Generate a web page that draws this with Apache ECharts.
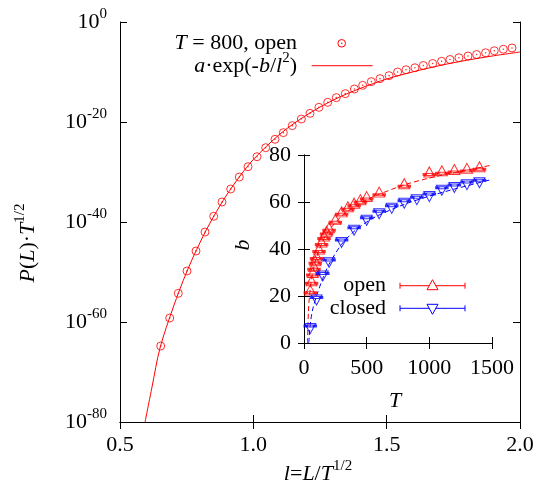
<!DOCTYPE html>
<html><head><meta charset="utf-8">
<script src="https://cdn.jsdelivr.net/npm/echarts@6/dist/echarts.min.js"></script>
<style>html,body{margin:0;padding:0;background:#fff}#c{width:547px;height:490px}</style>
</head><body><div id="c"></div>
<script>
// ---- main plot data: l = L/T^(1/2), log10 of P(L)*T^(1/2) ----
const mainL = [0.6526,0.6864,0.7186,0.7512,0.785,0.8188,0.8514,0.8825,0.9151,0.9474,0.98,1.0138,1.0464,1.0813,1.1125,1.146,1.18,1.2125,1.246,1.279,1.311,1.345,1.379,1.41,1.4425,1.475,1.509,1.541,1.5725,1.606,1.6375,1.6725,1.706,1.7375,1.771,1.805,1.8375,1.871,1.9035,1.9375,1.97];
const mainLogP = [-64.8,-59.2,-54.26,-49.8,-45.8,-42.0,-38.86,-36.0,-33.4,-31.0,-28.94,-26.94,-25.14,-23.46,-22.13,-20.73,-19.4,-18.27,-17.07,-16.07,-15.13,-14.33,-13.4,-12.67,-11.93,-11.33,-10.73,-10.0,-9.55,-9.15,-8.7,-8.3,-7.85,-7.5,-7.15,-6.8,-6.5,-6.15,-5.75,-5.45,-5.2];
const fitL = [0.594,0.62,0.65,0.70,0.75,0.80,0.85,0.90,0.95,1.0,1.1,1.2,1.3,1.4,1.5,1.6,1.7,1.8,1.9,2.0];
const fitLogP = [-80,-73,-65.2,-57.0,-50.0,-44.1,-39.0,-34.6,-30.8,-27.5,-22.4,-18.6,-15.6,-13.3,-11.4,-9.95,-8.7,-7.65,-6.77,-6.0];
// ---- inset data: b vs T ----
const openT = [50,60,70,80,90,100,120,140,160,180,200,250,300,350,400,450,500,600,800,1000,1100,1200,1300,1400];
const openB = [22.5,26.5,30,32.5,35,37,40,43,45.5,47.5,49,52.5,55.8,58,59.5,61,62.3,64.2,67.8,72.8,73.3,73.8,74.3,75];
const closedT = [50,100,150,200,300,400,500,600,700,800,900,1000,1100,1200,1300,1400];
const closedB = [6.2,18.3,28.5,34.3,42.8,48,52.2,55,57.3,59.5,61,62.3,65,66.2,67.4,68.2];
const openFitT = [28,31,35,40,50,60,80,100,150,200,300,400,500,600,800,1000,1200,1500];
const openFitB = [0,7,13,17.5,23,27,32.5,36.5,43.5,48,54,58,61,63.3,67.3,70.2,72.5,75.7];
const closedFitT = [38,42,47,55,70,100,150,200,300,400,500,600,800,1000,1200,1500];
const closedFitB = [0,3,6.5,10,14.5,20,27.5,33.5,42,47.5,51.5,54.5,59,62.5,65.5,69.6];
// ---- ticks ----
const mainXTicks = [0.5,1.0,1.5,2.0];
const mainYExp = [-80,-60,-40,-20,0];
const insetXTicks = [0,500,1000,1500];
const insetYTicks = [0,20,40,60,80];

const SERIF = 'Liberation Serif';
const RED = '#ff0000', BLUE = '#0000ff';
const zip = (a,b,f) => a.map((v,i)=>[v, f ? f(b[i]) : b[i]]);
const pow10 = e => Math.pow(10,e);
const mainYVals = mainYExp.map(pow10);

const richSup = {
  n:{fontFamily:SERIF,fontSize:22,lineHeight:30,color:'#000'},
  s:{fontFamily:SERIF,fontSize:15,lineHeight:15,verticalAlign:'top',color:'#000'},
  i:{fontFamily:SERIF,fontSize:22,lineHeight:30,fontStyle:'italic',color:'#000'}
};
const axLine = {show:true,lineStyle:{color:'#000',width:1}};
const tickIn = len => ({show:true,inside:true,length:len,lineStyle:{color:'#000',width:1}});
const lbl = {fontFamily:SERIF,fontSize:22,color:'#000'};

const chart = echarts.init(document.getElementById('c'),null,{renderer:'canvas'});
chart.setOption({
  animation:false,
  backgroundColor:'#fff',
  grid:[
    {left:120,top:22,width:400,height:400,show:false},
    {left:304,top:155,width:188,height:188,show:true,backgroundColor:'#fff',borderWidth:0}
  ],
  xAxis:[
    {gridIndex:0,type:'value',min:0.5,max:2.0,interval:0.5,position:'bottom',axisLine:axLine,axisTick:Object.assign(tickIn(7),{customValues:mainXTicks}),splitLine:{show:false},
     axisLabel:Object.assign({margin:12,customValues:mainXTicks,showMinLabel:true,showMaxLabel:true,formatter:v=>Number(v).toFixed(1)},lbl)},
    {gridIndex:0,type:'value',min:0.5,max:2.0,interval:0.5,position:'top',axisLine:axLine,axisTick:tickIn(7),splitLine:{show:false},axisLabel:{show:false}},
    {gridIndex:1,type:'value',min:0,max:1500,interval:500,position:'bottom',axisLine:axLine,axisTick:tickIn(6),splitLine:{show:false},
     axisLabel:Object.assign({margin:14,customValues:insetXTicks,showMinLabel:true,showMaxLabel:true,formatter:v=>String(Math.round(v))},lbl)},
    {gridIndex:1,type:'value',min:0,max:1500,interval:500,position:'top',axisLine:axLine,axisTick:tickIn(6),splitLine:{show:false},axisLabel:{show:false}}
  ],
  yAxis:[
    {gridIndex:0,type:'log',logBase:10,min:1e-80,max:1,position:'left',axisLine:axLine,
     axisTick:Object.assign(tickIn(7),{customValues:mainYVals}),splitLine:{show:false},minorTick:{show:false},
     axisLabel:{margin:13,customValues:mainYVals,showMinLabel:true,showMaxLabel:true,
       formatter:v=>'{n|10}{s|'+Math.round(Math.log10(v))+'}',rich:richSup}},
    {gridIndex:0,type:'log',logBase:10,min:1e-80,max:1,position:'right',axisLine:axLine,
     axisTick:Object.assign(tickIn(7),{customValues:mainYVals}),splitLine:{show:false},axisLabel:{show:false}},
    {gridIndex:1,type:'value',min:0,max:80,interval:20,position:'left',axisLine:axLine,axisTick:tickIn(6),splitLine:{show:false},
     axisLabel:Object.assign({margin:13,customValues:insetYTicks,showMinLabel:true,showMaxLabel:true,formatter:v=>String(Math.round(v))},lbl)},
    {gridIndex:1,type:'value',min:0,max:80,interval:20,position:'right',axisLine:axLine,axisTick:tickIn(6),splitLine:{show:false},axisLabel:{show:false}}
  ],
  series:[
    {type:'line',xAxisIndex:0,yAxisIndex:0,data:zip(fitL,fitLogP,pow10),showSymbol:false,smooth:0.3,
     lineStyle:{color:RED,width:1},clip:true,z:2},
    {type:'scatter',xAxisIndex:0,yAxisIndex:0,data:zip(mainL,mainLogP,pow10),symbol:'circle',symbolSize:8,
     itemStyle:{color:'rgba(0,0,0,0)',borderColor:RED,borderWidth:1},z:3},
    {type:'scatter',xAxisIndex:0,yAxisIndex:0,data:zip(mainL,mainLogP,pow10),symbol:'circle',symbolSize:1.6,
     itemStyle:{color:RED},z:3},
    {type:'line',xAxisIndex:2,yAxisIndex:2,data:zip(openFitT,openFitB),showSymbol:false,smooth:0.3,clip:true,
     lineStyle:{color:RED,width:1,type:[5,3]},z:4},
    {type:'line',xAxisIndex:2,yAxisIndex:2,data:zip(closedFitT,closedFitB),showSymbol:false,smooth:0.3,clip:true,
     lineStyle:{color:BLUE,width:1,type:[5,3]},z:4},
    {type:'scatter',xAxisIndex:2,yAxisIndex:2,data:zip(openT,openB),symbol:'triangle',symbolSize:[11,10],
     itemStyle:{color:'rgba(0,0,0,0)',borderColor:RED,borderWidth:1},z:5},
    {type:'scatter',xAxisIndex:2,yAxisIndex:2,data:zip(openT,openB),symbol:'rect',symbolSize:[9,2],symbolOffset:[0,2.5],
     itemStyle:{color:'rgba(0,0,0,0)',borderColor:RED,borderWidth:1},z:5},
    {type:'scatter',xAxisIndex:2,yAxisIndex:2,data:zip(closedT,closedB),symbol:'triangle',symbolRotate:180,symbolSize:[11,10],
     itemStyle:{color:'rgba(0,0,0,0)',borderColor:BLUE,borderWidth:1},z:5},
    {type:'scatter',xAxisIndex:2,yAxisIndex:2,data:zip(closedT,closedB),symbol:'rect',symbolSize:[9,2],symbolOffset:[0,-2.5],
     itemStyle:{color:'rgba(0,0,0,0)',borderColor:BLUE,borderWidth:1},z:5}
  ],
  graphic:[
    // axis titles
    {type:'text',x:318,y:474,z:10,style:{text:'{i|l}{n|=}{i|L}{n|/}{i|T}{s|1/2}',rich:richSup,align:'center',verticalAlign:'middle'}},
    {type:'text',x:28,y:243,rotation:Math.PI/2,z:10,style:{text:'{i|P}{n|(}{i|L}{n|)·}{i|T}{s|1/2}',rich:richSup,align:'center',verticalAlign:'middle'}},
    {type:'text',x:395,y:401,z:10,style:{text:'T',font:'italic 22px "Liberation Serif"',fill:'#000',align:'center',verticalAlign:'middle'}},
    {type:'text',x:243,y:245,rotation:Math.PI/2,z:10,style:{text:'b',font:'italic 22px "Liberation Serif"',fill:'#000',align:'center',verticalAlign:'middle'}},
    // main legend
    {type:'text',x:297,y:43.5,z:10,style:{text:'{i|T}{n| = 800, open}',rich:richSup,align:'right',verticalAlign:'middle'}},
    {type:'circle',z:10,shape:{cx:341.7,cy:43.3,r:3.8},style:{fill:'none',stroke:RED,lineWidth:1}},
    {type:'circle',z:10,shape:{cx:341.7,cy:43.3,r:0.8},style:{fill:RED}},
    {type:'text',x:297,y:66,z:10,style:{text:'{i|a}{n|·exp(-}{i|b}{n|/}{i|l}{s|2}{n|)}',rich:richSup,align:'right',verticalAlign:'middle'}},
    {type:'line',z:10,shape:{x1:311.7,y1:65.7,x2:372.7,y2:65.7},style:{stroke:RED,lineWidth:1}},
    // inset legend
    {type:'text',x:386,y:285.7,z:10,style:{text:'open',font:'22px "Liberation Serif"',fill:'#000',align:'right',verticalAlign:'middle'}},
    {type:'text',x:386,y:308.3,z:10,style:{text:'closed',font:'22px "Liberation Serif"',fill:'#000',align:'right',verticalAlign:'middle'}},
    {type:'polyline',z:10,shape:{points:[[400,282.7],[400,288.7]]},style:{stroke:RED,lineWidth:1}},
    {type:'polyline',z:10,shape:{points:[[465,282.7],[465,288.7]]},style:{stroke:RED,lineWidth:1}},
    {type:'line',z:10,shape:{x1:400,y1:285.7,x2:465,y2:285.7},style:{stroke:RED,lineWidth:1}},
    {type:'polygon',z:11,shape:{points:[[432.5,279.7],[438,289.7],[427,289.7]]},style:{fill:'#fff',stroke:RED,lineWidth:1}},
    {type:'polyline',z:10,shape:{points:[[400,305.3],[400,311.3]]},style:{stroke:BLUE,lineWidth:1}},
    {type:'polyline',z:10,shape:{points:[[465,305.3],[465,311.3]]},style:{stroke:BLUE,lineWidth:1}},
    {type:'line',z:10,shape:{x1:400,y1:308.3,x2:465,y2:308.3},style:{stroke:BLUE,lineWidth:1}},
    {type:'polygon',z:11,shape:{points:[[432.5,314.3],[438,304.3],[427,304.3]]},style:{fill:'#fff',stroke:BLUE,lineWidth:1}}
  ]
});
</script></body></html>
